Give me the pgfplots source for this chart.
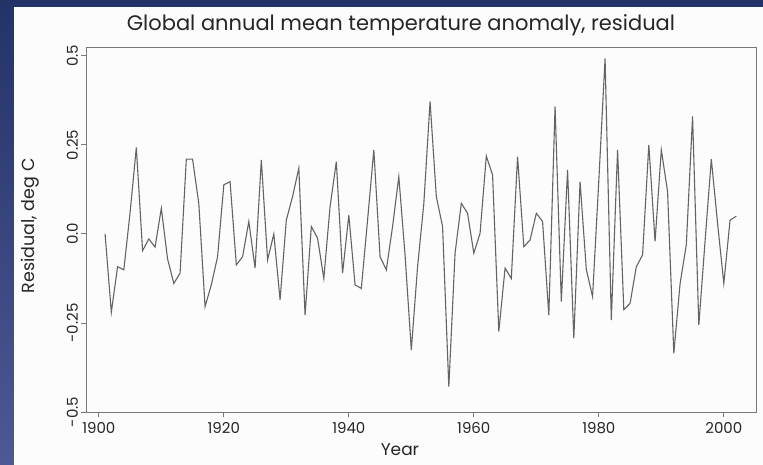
\documentclass[border=0pt]{standalone}
\usepackage{pgfplots}
\pgfplotsset{compat=1.18}
\usepackage{fontspec}
\setmainfont{Poppins}
\definecolor{bgtop}{RGB}{36,50,106}
\definecolor{bgbot}{RGB}{76,89,146}
\definecolor{panel}{RGB}{252,252,252}
\definecolor{boxc}{RGB}{120,120,120}
\definecolor{linec}{RGB}{100,100,100}
\begin{document}
\begin{tikzpicture}
\useasboundingbox (0,0) rectangle (763pt,465pt);
\shade[top color=bgtop, bottom color=bgbot] (0,0) rectangle (763pt,465pt);
\fill[panel] (14pt,0) rectangle (763pt,458pt);
\node[font=\fontsize{21}{24}\selectfont, text=black!85] at (401pt,440pt) {Global annual mean temperature anomaly, residual};
\begin{axis}[
  at={(86.7pt,53pt)}, anchor=south west,
  scale only axis, width=669.3pt, height=365pt,
  xmin=1898.06, xmax=2005.15, ymin=-0.5, ymax=0.525,
  axis line style={boxc, line width=0.9pt},
  tick style={boxc, line width=0.9pt},
  tick align=outside, major tick length=5.5pt,
  xtick={1900,1920,1940,1960,1980,2000},
  ytick={-0.5,-0.25,0,0.25,0.5},
  yticklabels={-0.5,-0.25,0.0,0.25,0.5},
  xtick pos=bottom, ytick pos=left,
  /pgf/number format/1000 sep={},
  /pgf/number format/assume math mode=true,
  ticklabel style={font=\fontsize{15}{17}\selectfont, text=black!85},
  xticklabel style={anchor=north, inner sep=0pt, yshift=-4.5pt},
  yticklabel style={rotate=90, anchor=south, inner sep=0pt},
  yticklabel shift=3pt,
  xlabel={Year}, ylabel={Residual, deg C},
  every axis x label/.style={at={(axis description cs:0.468,-0.104)}, anchor=center, font=\fontsize{17}{20}\selectfont, text=black!85},
  every axis y label/.style={at={(axis description cs:-0.0847,0.51)}, rotate=90, anchor=center, font=\fontsize{17.5}{20}\selectfont, text=black!85},
  clip=false,
]
\addplot[linec, line width=1.1pt, line join=miter, mark=none] table {
year val
1901 0.00
1902 -0.22
1903 -0.092
1904 -0.101
1905 0.06
1906 0.243
1907 -0.047
1908 -0.014
1909 -0.037
1910 0.072
1911 -0.07
1912 -0.139
1913 -0.11
1914 0.21
1915 0.21
1916 0.085
1917 -0.204
1918 -0.143
1919 -0.064
1920 0.138
1921 0.147
1922 -0.087
1923 -0.064
1924 0.035
1925 -0.096
1926 0.208
1927 -0.073
1928 0.0
1929 -0.185
1930 0.039
1931 0.105
1932 0.185
1933 -0.228
1934 0.021
1935 -0.012
1936 -0.125
1937 0.077
1938 0.203
1939 -0.11
1940 0.053
1941 -0.143
1942 -0.153
1943 0.039
1944 0.236
1945 -0.064
1946 -0.101
1947 0.021
1948 0.161
1949 -0.06
1950 -0.326
1951 -0.092
1952 0.085
1953 0.372
1954 0.105
1955 0.021
1956 -0.429
1957 -0.054
1958 0.086
1959 0.058
1960 -0.054
1961 0.002
1962 0.219
1963 0.166
1964 -0.274
1965 -0.096
1966 -0.125
1967 0.217
1968 -0.036
1969 -0.017
1970 0.058
1971 0.035
1972 -0.228
1973 0.358
1974 -0.19
1975 0.18
1976 -0.293
1977 0.147
1978 -0.1
1979 -0.176
1980 0.15
1981 0.493
1982 -0.242
1983 0.236
1984 -0.213
1985 -0.195
1986 -0.092
1987 -0.059
1988 0.25
1989 -0.021
1990 0.236
1991 0.119
1992 -0.335
1993 -0.14
1994 -0.03
1995 0.33
1996 -0.256
1997 -0.02
1998 0.21
1999 0.03
2000 -0.139
2001 0.039
2002 0.05
};
\end{axis}
\end{tikzpicture}
\end{document}
